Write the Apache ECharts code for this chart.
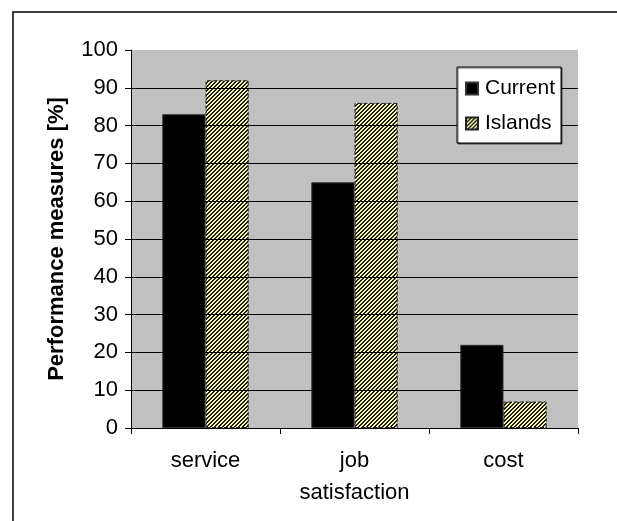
<!DOCTYPE html>
<html>
<head>
<meta charset="utf-8">
<script src="https://cdn.jsdelivr.net/npm/echarts@6/dist/echarts.min.js"></script>
<style>
  html, body { margin: 0; padding: 0; background: #fff; }
  #chart { width: 617px; height: 521px; }
</style>
</head>
<body>
<div id="chart"></div>
<script>
// Performance measures per category, current setup vs. islands
const categories = ['service', 'job\nsatisfaction', 'cost'];
const currentValues = [83, 65, 22];
const islandsValues = [92, 86, 7];
const gridLineValues = [10, 20, 30, 40, 50, 60, 70, 80, 90];

// Diagonal hatch fill used for the "Islands" bars
function makeHatch() {
  const c = document.createElement('canvas');
  c.width = 4; c.height = 4;
  const ctx = c.getContext('2d');
  const img = ctx.createImageData(4, 4);
  for (let y = 0; y < 4; y++) {
    for (let x = 0; x < 4; x++) {
      const i = (y * 4 + x) * 4;
      const dark = ((x + y) % 4) < 2;
      const col = dark ? [30, 30, 20] : [245, 245, 180];
      img.data[i] = col[0]; img.data[i + 1] = col[1]; img.data[i + 2] = col[2]; img.data[i + 3] = 255;
    }
  }
  ctx.putImageData(img, 0, 0);
  return c;
}
const hatch = { image: makeHatch(), repeat: 'repeat' };

const font = 'Liberation Sans, Arial, sans-serif';
const chart = echarts.init(document.getElementById('chart'), null, { renderer: 'canvas' });

chart.setOption({
  animation: false,
  backgroundColor: '#fff',
  textStyle: { fontFamily: font },
  graphic: [{
    type: 'rect',
    shape: { x: 13, y: 12, width: 700, height: 600 },
    style: { fill: 'none', stroke: '#000', lineWidth: 1.5 },
    silent: true
  }],
  grid: {
    left: 131, top: 50, right: 39, bottom: 93,
    show: true, backgroundColor: '#c0c0c0', borderWidth: 0
  },
  legend: {
    data: ['Current', 'Islands'],
    orient: 'vertical',
    left: 457, top: 67,
    z: 20,
    padding: [11, 6, 9, 8],
    itemGap: 14,
    itemWidth: 12, itemHeight: 12,
    icon: 'rect',
    backgroundColor: '#fff',
    borderColor: '#000', borderWidth: 1,
    shadowColor: 'rgba(0,0,0,0.6)', shadowOffsetX: 1, shadowOffsetY: 1, shadowBlur: 0,
    textStyle: { fontSize: 21, color: '#000', fontFamily: font, padding: [0, 0, 0, 2] }
  },
  xAxis: {
    type: 'category',
    data: categories,
    axisLine: { lineStyle: { color: '#000', width: 1 } },
    axisTick: { show: true, length: 6, lineStyle: { color: '#000' } },
    axisLabel: { fontSize: 22, color: '#000', margin: 17, lineHeight: 32, fontFamily: font },
    splitLine: { show: false }
  },
  yAxis: {
    type: 'value',
    min: 0, max: 100, interval: 10,
    name: 'Performance measures [%]',
    nameLocation: 'middle',
    nameGap: 63,
    nameTextStyle: { fontSize: 22, fontWeight: 'bold', color: '#000', fontFamily: font },
    axisLine: { show: true, lineStyle: { color: '#000', width: 1 } },
    axisTick: { show: true, length: 6, lineStyle: { color: '#000' } },
    axisLabel: { fontSize: 22, color: '#000', margin: 13, fontFamily: font },
    splitLine: { show: false }
  },
  series: [
    {
      // horizontal gridlines, kept behind the bars
      type: 'line', data: [], z: 1, silent: true,
      markLine: {
        silent: true, symbol: ['none', 'none'], label: { show: false },
        lineStyle: { color: '#000', width: 1, type: 'solid' },
        data: gridLineValues.map(v => ({ yAxis: v }))
      }
    },
    {
      name: 'Current', type: 'bar', z: 2,
      data: currentValues,
      barGap: '0%', barCategoryGap: '42%',
      itemStyle: { color: '#000', borderColor: '#333', borderWidth: 1 }
    },
    {
      name: 'Islands', type: 'bar', z: 2,
      data: islandsValues,
      itemStyle: { color: hatch, borderColor: '#222', borderWidth: 1, borderType: 'dashed' }
    }
  ]
});
</script>
</body>
</html>
